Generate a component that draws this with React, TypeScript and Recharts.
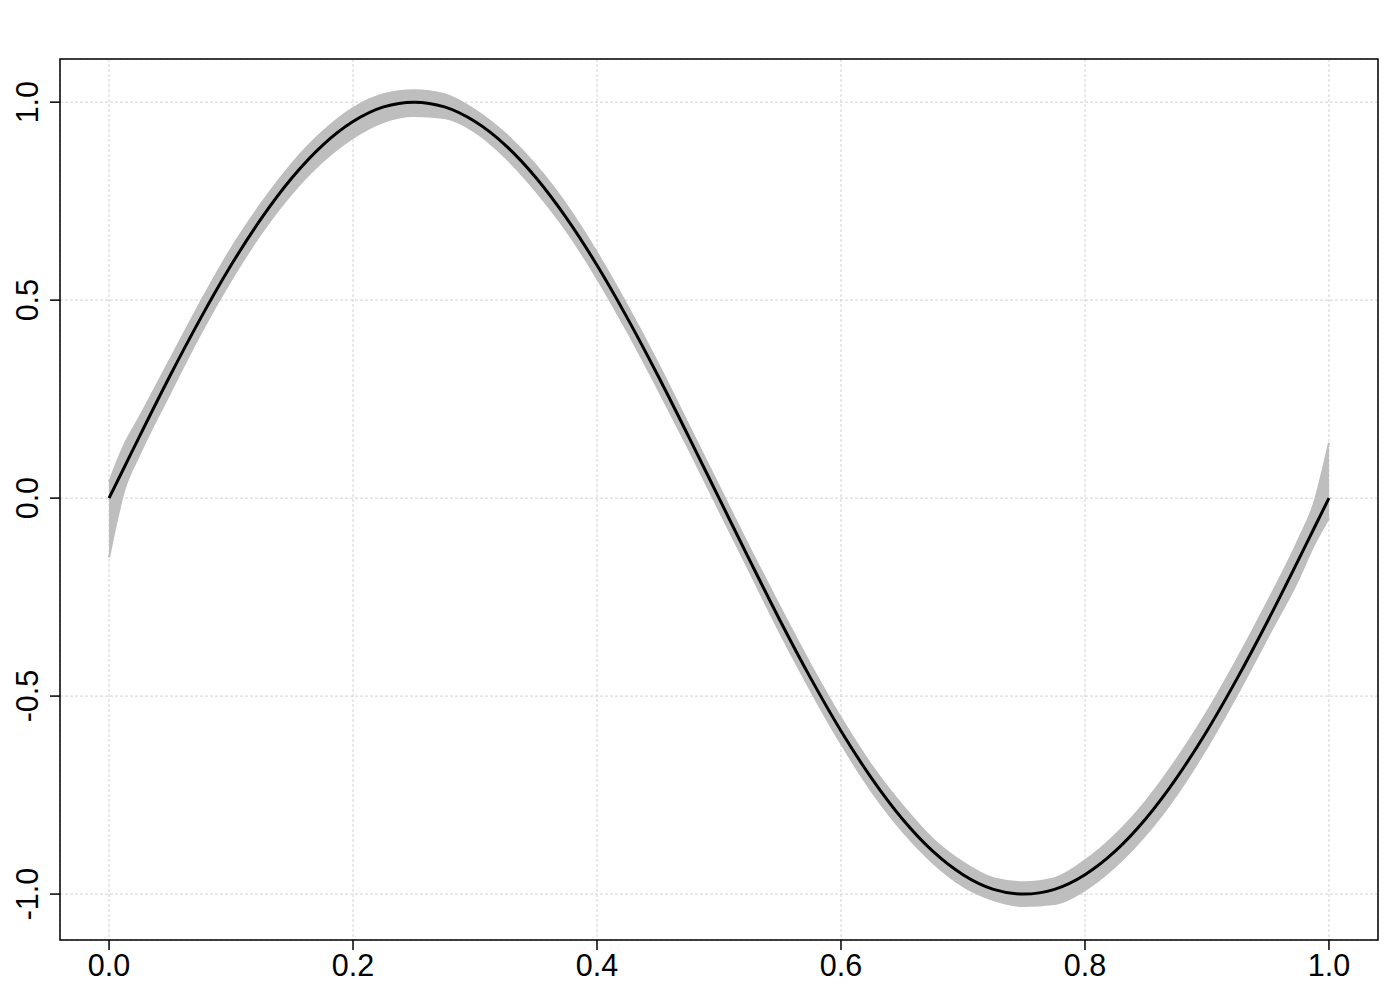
import { ComposedChart, Area, Line, XAxis, YAxis, CartesianGrid, ReferenceArea } from 'recharts';

// x positions of the fitted curve
const xs = [0, 0.0125, 0.025, 0.05, 0.075, 0.1, 0.125, 0.15, 0.175, 0.2, 0.225, 0.25, 0.275, 0.3, 0.325, 0.35, 0.375, 0.4, 0.425, 0.45, 0.475, 0.5, 0.525, 0.55, 0.575, 0.6, 0.625, 0.65, 0.675, 0.7, 0.725, 0.75, 0.775, 0.8, 0.825, 0.85, 0.875, 0.9, 0.925, 0.95, 0.975, 0.9875, 1.0];

// black curve
const fit = [0, 0.078, 0.156, 0.309, 0.454, 0.588, 0.707, 0.809, 0.891, 0.951, 0.988, 1.0, 0.988, 0.951, 0.891, 0.809, 0.707, 0.588, 0.454, 0.309, 0.156, 0, -0.156, -0.309, -0.454, -0.588, -0.707, -0.809, -0.891, -0.951, -0.988, -1.0, -0.988, -0.951, -0.891, -0.809, -0.707, -0.588, -0.454, -0.309, -0.156, -0.078, 0];

// grey band of sampled curves
const bandLow = [-0.15, 0.02, 0.11, 0.265, 0.415, 0.55, 0.67, 0.77, 0.85, 0.91, 0.95, 0.965, 0.96, 0.925, 0.86, 0.775, 0.675, 0.555, 0.42, 0.275, 0.125, -0.03, -0.185, -0.34, -0.485, -0.62, -0.74, -0.84, -0.92, -0.98, -1.015, -1.03, -1.025, -0.99, -0.93, -0.85, -0.75, -0.63, -0.495, -0.35, -0.205, -0.12, -0.05];
const bandHigh = [0.04, 0.135, 0.205, 0.35, 0.495, 0.63, 0.745, 0.845, 0.925, 0.985, 1.02, 1.03, 1.02, 0.98, 0.92, 0.84, 0.74, 0.62, 0.485, 0.34, 0.185, 0.03, -0.125, -0.275, -0.42, -0.555, -0.675, -0.775, -0.86, -0.92, -0.96, -0.97, -0.96, -0.915, -0.85, -0.765, -0.66, -0.54, -0.405, -0.26, -0.105, -0.015, 0.14];

const xTicks = [0, 0.2, 0.4, 0.6, 0.8, 1.0];
const yTicks = [-1, -0.5, 0, 0.5, 1];

const X_MIN = -0.0402;
const X_MAX = 1.0402;
const Y_MIN = -1.116;
const Y_MAX = 1.109;

const FONT = '"Liberation Sans", Arial, sans-serif';

function XTick({ x, y, payload }: any) {
  return (
    <text x={x} y={y} dy={24} textAnchor="middle" fontFamily={FONT} fontSize={30.5} fill="#000">
      {Number(payload.value).toFixed(1)}
    </text>
  );
}

function YTick({ y, payload }: any) {
  const bx = 38;
  return (
    <text x={bx} y={y} textAnchor="middle" transform={`rotate(-90, ${bx}, ${y})`} fontFamily={FONT} fontSize={30.5} fill="#000">
      {Number(payload.value).toFixed(1)}
    </text>
  );
}

export default function App() {
  const data = xs.map((x, i) => ({
    x,
    fit: fit[i],
    band: [bandLow[i], bandHigh[i]],
  }));

  return (
    <div style={{ position: 'absolute', left: 0, top: 0, width: 1400, height: 1000, background: '#fff' }}>
      <ComposedChart width={1400} height={1000} data={data} margin={{ top: 59, right: 22, bottom: 0, left: 0 }}>
        <CartesianGrid stroke="#d3d3d3" strokeDasharray="3 2" strokeWidth={1} />
        <XAxis
          dataKey="x"
          type="number"
          domain={[X_MIN, X_MAX]}
          ticks={xTicks}
          allowDataOverflow
          axisLine={false}
          tickLine={{ stroke: '#000', strokeWidth: 1.5 }}
          tickSize={10}
          height={60}
          tick={<XTick />}
        />
        <YAxis
          type="number"
          domain={[Y_MIN, Y_MAX]}
          ticks={yTicks}
          allowDataOverflow
          axisLine={false}
          tickLine={{ stroke: '#000', strokeWidth: 1.5 }}
          tickSize={10}
          width={60}
          tick={<YTick />}
        />
        <Area
          dataKey="band"
          type="monotone"
          stroke="#bebebe"
          strokeWidth={2}
          fill="#bebebe"
          fillOpacity={1}
          isAnimationActive={false}
          dot={false}
          activeDot={false}
        />
        <Line
          dataKey="fit"
          type="monotone"
          stroke="#000"
          strokeWidth={3}
          dot={false}
          activeDot={false}
          isAnimationActive={false}
        />
        <ReferenceArea x1={X_MIN} x2={X_MAX} y1={Y_MIN} y2={Y_MAX} fill="none" stroke="#000" strokeWidth={1.5} ifOverflow="visible" />
      </ComposedChart>
    </div>
  );
}
